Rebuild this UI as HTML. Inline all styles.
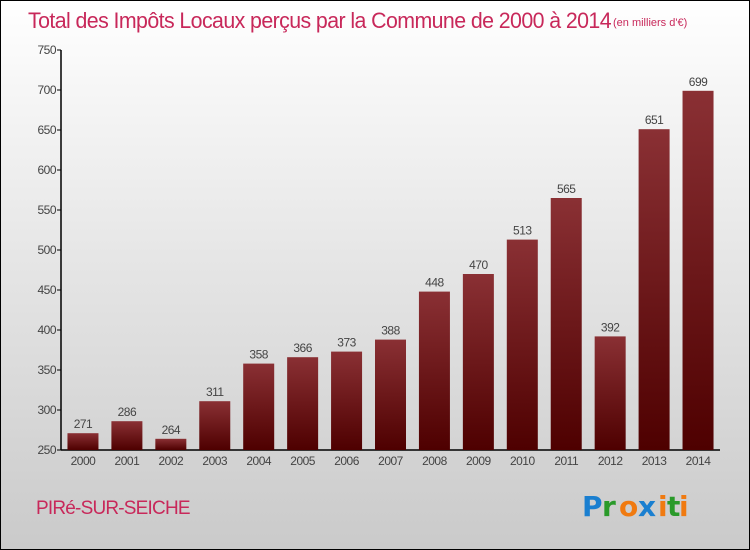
<!DOCTYPE html>
<html><head><meta charset="utf-8"><style>
html,body{margin:0;padding:0}
body{width:750px;height:550px;overflow:hidden;font-family:"Liberation Sans",sans-serif}
#wrap{position:absolute;left:0;top:0;width:748px;height:548px;border:1px solid #000;background:linear-gradient(#fff 0%,#f4f4f4 20%,#cacaca 100%)}
</style></head><body>
<div id="wrap">
<svg id="chart" width="750" height="550" style="position:absolute;left:-1px;top:-1px">
<defs>
<linearGradient id="bg" x1="0" y1="0" x2="0" y2="1">
<stop offset="0" stop-color="#8a3034"/><stop offset="1" stop-color="#4e0000"/>
</linearGradient>
</defs>
<text x="28" y="28" font-size="22" fill="#c8285a" font-family="Liberation Sans" style="letter-spacing:-0.6px" textLength="583" lengthAdjust="spacingAndGlyphs">Total des Impôts Locaux perçus par la Commune de 2000 à 2014</text>
<text x="613" y="26" font-size="11" fill="#c8285a">(en milliers d'€)</text>
<g id="axes"></g>
<g id="bars"></g>
<text x="36" y="514" font-size="19" fill="#c8285a" style="letter-spacing:-0.8px">PIRé-SUR-SEICHE</text>
<g font-size="28" font-weight="bold" font-family="DejaVu Sans">
<text x="582" y="516" fill="#1a7fd0">P</text><text x="602" y="516" fill="#2a9a2a">r</text><text x="619" y="516" fill="#f07a10">o</text><text x="638" y="516" fill="#1a7fd0">x</text><text x="658" y="516" fill="#f07a10">i</text><text x="667" y="516" fill="#2a9a2a">t</text><text x="679" y="516" fill="#f07a10">i</text>
</g>
</svg>
</div>
<script>
const years=["2000","2001","2002","2003","2004","2005","2006","2007","2008","2009","2010","2011","2012","2013","2014"];
const values=[271,286,264,311,358,366,373,388,448,470,513,565,392,651,699];
const yTicks=[250,300,350,400,450,500,550,600,650,700,750];
const NS="http://www.w3.org/2000/svg";
const x0=61,x1=720,y0=450,y1=50,vmin=250,vmax=750;
const yS=v=>y0-(v-vmin)/(vmax-vmin)*(y0-y1);
const step=(x1-x0)/years.length;
const xC=i=>x0+step*(i+0.5);
function mk(t,a,p){const e=document.createElementNS(NS,t);for(const k in a)e.setAttribute(k,a[k]);p.appendChild(e);return e;}
const ax=document.getElementById('axes'),bg=document.getElementById('bars');
const yl=mk('line',{x1:x0,y1:y1,x2:x0,y2:y0,stroke:'#000','stroke-width':1.5},ax);


const xl=mk('line',{x1:x0,y1:y0,x2:x1,y2:y0,stroke:'#000','stroke-width':1.5},ax);


yTicks.forEach(v=>{
 mk('line',{x1:x0-4,y1:yS(v),x2:x0,y2:yS(v),stroke:'#000'},ax);
 const t=mk('text',{x:x0-5,y:yS(v)+4,'font-size':12,fill:'#444','text-anchor':'end','letter-spacing':'-0.5'},ax);
 t.textContent=v;
 
 
});
years.forEach((y,i)=>{
 const c=xC(i),w=31;
 const r=mk('rect',{x:c-w/2,y:yS(values[i]),width:w,height:y0-yS(values[i]),fill:'url(#bg)'},bg);
 
 
 const lv=mk('text',{x:c,y:yS(values[i])-5,'font-size':12,fill:'#444','text-anchor':'middle','letter-spacing':'-0.5'},bg);
 lv.textContent=values[i];
 
 
 const lx=mk('text',{x:c,y:y0+15,'font-size':12,fill:'#444','text-anchor':'middle','letter-spacing':'-0.5'},ax);
 lx.textContent=y;
 
 
});
</script>
</body></html>
